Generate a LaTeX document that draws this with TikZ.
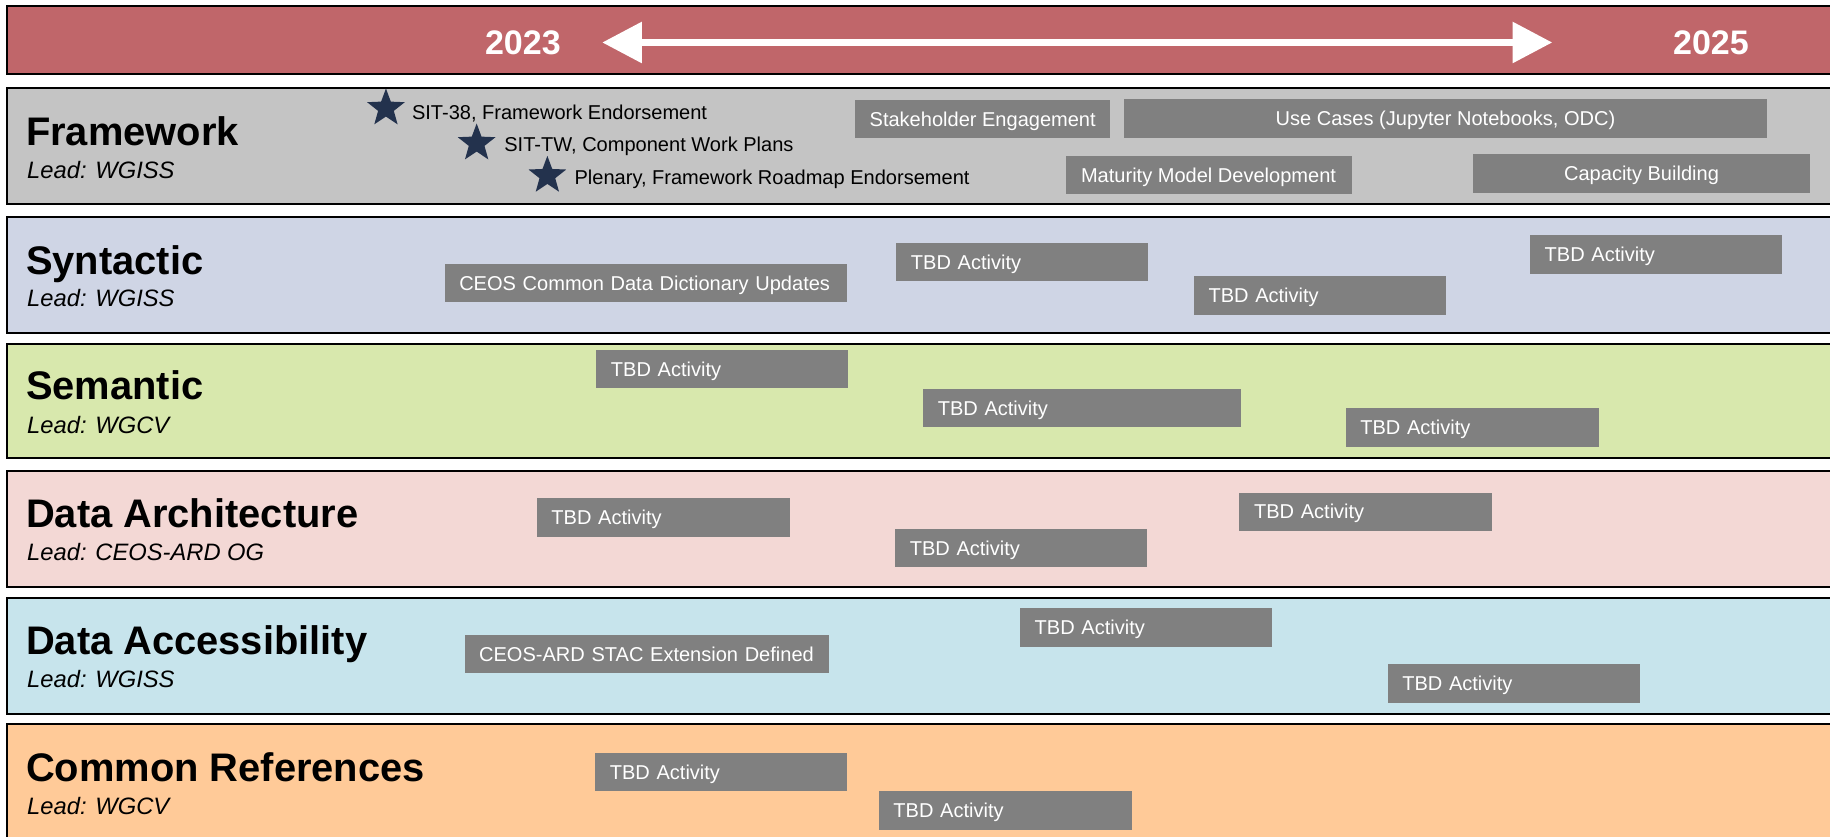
\documentclass[tikz,border=0pt]{standalone}
\usepackage{fontspec}
\setmainfont{Liberation Sans}
\usetikzlibrary{shapes.geometric,arrows.meta}
\definecolor{bandred}{RGB}{192,102,106}
\definecolor{bandgray}{RGB}{196,196,196}
\definecolor{bandsyn}{RGB}{207,213,229}
\definecolor{bandsem}{RGB}{216,232,173}
\definecolor{bandarch}{RGB}{243,216,213}
\definecolor{bandacc}{RGB}{199,228,236}
\definecolor{bandref}{RGB}{255,202,152}
\definecolor{actgray}{RGB}{128,128,128}
\definecolor{starblue}{RGB}{35,50,77}
\tikzset{
  band/.style={draw=black, line width=1pt},
  act/.style={fill=actgray, text=white, inner ysep=0pt,
    font=\fontsize{10.3}{12}\selectfont, text height=7.37pt, text depth=0pt},
  title/.style={anchor=base west, inner sep=0pt, font=\bfseries\fontsize{20.5}{24}\selectfont},
  lead/.style={anchor=base west, inner sep=0pt, font=\itshape\fontsize{12.2}{14}\selectfont},
  year/.style={text=white, inner sep=0pt, font=\bfseries\fontsize{17.5}{20}\selectfont, text height=12.5pt, text depth=0pt},
  starmark/.style={star, star points=5, star point ratio=2.4, fill=starblue, draw=none, minimum size=20.4pt, inner sep=0pt},
  mstext/.style={anchor=base west, inner sep=0pt, font=\fontsize{10.3}{12}\selectfont},
}
% left-aligned activity box: name, x1, x2, y1, y2, text
\newcommand{\actboxl}[6]{%
  \pgfmathsetmacro{\awd}{(#3-#2)*0.6-15}%
  \pgfmathsetmacro{\aht}{(#5-#4)*0.6}%
  \node[act, inner xsep=7.5pt, text width=\awd pt, minimum height=\aht pt, align=left] (#1) at ({(#2+#3)/2},{(#4+#5)/2}) {#6};%
}
% centred activity box: name, x1, x2, y1, y2, text
\newcommand{\actboxc}[6]{%
  \pgfmathsetmacro{\awd}{(#3-#2)*0.6}%
  \pgfmathsetmacro{\aht}{(#5-#4)*0.6}%
  \node[act, inner xsep=0pt, minimum width=\awd pt, minimum height=\aht pt] (#1) at ({(#2+#3)/2},{(#4+#5)/2}) {#6};%
}
\begin{document}
\begin{tikzpicture}[x=0.6pt, y=-0.6pt]
\useasboundingbox (0,0) rectangle (1568,717);
\clip (0,0) rectangle (1568,717);
\fill[white] (0,0) rectangle (1568,717);
% bands
\draw[band, fill=bandred]  (6,5.1)   rectangle (1600,63.4);
\draw[band, fill=bandgray] (6,75.4)  rectangle (1600,174.8);
\draw[band, fill=bandsyn]  (6,186)   rectangle (1600,285);
\draw[band, fill=bandsem]  (6,294.7) rectangle (1600,392.4);
\draw[band, fill=bandarch] (6,403.3) rectangle (1600,502.7);
\draw[band, fill=bandacc]  (6,512)   rectangle (1600,611.8);
\draw[band, fill=bandref]  (6,620.3) rectangle (1600,740);
% timeline
\node[year] (y23) at (448,36.7) {2023};
\node[year] (y25) at (1466,36.7) {2025};
\coordinate (al) at (516,36.4);
\coordinate (ar) at (1330,36.4);
\draw[white, line width=3.6pt, {Triangle[length=20.4pt,width=20.4pt]}-{Triangle[length=20.4pt,width=20.4pt]}] (al) -- (ar);
% titles
\node[title] (tfw) at (22,124.8) {Framework};
\node[lead]  (lfw) at (23,152.7) {Lead: WGISS};
\node[title] (tsy) at (22,234.8) {Syntactic};
\node[lead]  (lsy) at (23,262.8) {Lead: WGISS};
\node[title] (tse) at (22,342.7) {Semantic};
\node[lead]  (lse) at (23,371) {Lead: WGCV};
\node[title] (tda) at (22,452) {Data Architecture};
\node[lead]  (lda) at (23,480) {Lead: CEOS-ARD OG};
\node[title] (tac) at (22,561) {Data Accessibility};
\node[lead]  (lac) at (23,589) {Lead: WGISS};
\node[title] (tcr) at (22,670) {Common References};
\node[lead]  (lcr) at (23,698) {Lead: WGCV};
% milestones
\node[starmark] (st1) at (330.7,92.8) {};
\node[mstext] (mt1) at (352.7,102.2) {SIT-38, Framework Endorsement};
\node[starmark] (st2) at (408.4,122.8) {};
\node[mstext] (mt2) at (431.8,130) {SIT-TW, Component Work Plans};
\node[starmark] (st3) at (469,150.5) {};
\node[mstext] (mt3) at (492,158) {Plenary, Framework Roadmap Endorsement};
% framework activities
\actboxc{f1}{733}{951}{85.5}{118.5}{Stakeholder Engagement}
\actboxc{f2}{963}{1514}{85}{118}{Use Cases (Jupyter Notebooks, ODC)}
\actboxc{f3}{913}{1158}{133.7}{166.5}{Maturity Model Development}
\actboxc{f4}{1262}{1551}{132}{165}{Capacity Building}
% syntactic
\actboxl{s1}{381}{726}{226}{259}{CEOS Common Data Dictionary Updates}
\actboxl{s2}{768}{984}{208}{241}{TBD Activity}
\actboxl{s3}{1023}{1239}{236.5}{270}{TBD Activity}
\actboxl{s4}{1311}{1527}{201.4}{235}{TBD Activity}
% semantic
\actboxl{m1}{511}{727}{300}{332.5}{TBD Activity}
\actboxl{m2}{791}{1063}{333}{366}{TBD Activity}
\actboxl{m3}{1153}{1370}{349.7}{383}{TBD Activity}
% data architecture
\actboxl{a1}{460}{677}{427}{460}{TBD Activity}
\actboxl{a2}{767}{983}{453}{486}{TBD Activity}
\actboxl{a3}{1062}{1278}{422}{455}{TBD Activity}
% data accessibility
\actboxl{c1}{398}{710}{544}{577}{CEOS-ARD STAC Extension Defined}
\actboxl{c2}{874}{1090}{521}{554}{TBD Activity}
\actboxl{c3}{1189}{1405}{569}{602}{TBD Activity}
% common references
\actboxl{r1}{510}{726}{645}{678}{TBD Activity}
\actboxl{r2}{753}{970}{678}{711}{TBD Activity}
\end{tikzpicture}
\end{document}
